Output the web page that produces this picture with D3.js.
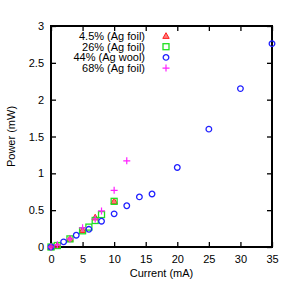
<!DOCTYPE html>
<html>
<head>
<meta charset="utf-8">
<script src="https://cdn.jsdelivr.net/npm/d3@7"></script>
<style>
  body { margin: 0; background: #fff; }
  svg text { font-family: "Liberation Sans", Arial, sans-serif; fill: #000; }
</style>
</head>
<body>
<svg id="chart" width="295" height="295"></svg>
<script>
// series data
const SERIES_NAMES = ["4.5% (Ag foil)", "26% (Ag foil)", "44% (Ag wool)", "68% (Ag foil)"];

const foil45X = [0, 1, 3, 5, 7, 10];
const foil45Y = [0, 0.02, 0.11, 0.23, 0.40, 0.62];

const foil26X = [0, 1, 3, 5, 6, 7, 8, 10];
const foil26Y = [0, 0.02, 0.11, 0.22, 0.27, 0.36, 0.44, 0.62];

const wool44X = [0, 2, 4, 6, 8, 10, 12, 14, 16, 20, 25, 30, 35];
const wool44Y = [0, 0.07, 0.16, 0.24, 0.35, 0.45, 0.56, 0.68, 0.72, 1.08, 1.60, 2.15, 2.76];

const foil68X = [0, 1, 3, 5, 7, 8, 10, 12];
const foil68Y = [0, 0.03, 0.11, 0.26, 0.38, 0.49, 0.77, 1.17];

const X_TICKS = [0, 5, 10, 15, 20, 25, 30, 35];
const Y_TICKS = [0, 0.5, 1, 1.5, 2, 2.5, 3];

const MARGIN = { top: 26, right: 23, bottom: 48, left: 51 };
const WIDTH = 295 - MARGIN.left - MARGIN.right;
const HEIGHT = 295 - MARGIN.top - MARGIN.bottom;
const TICK_LEN = 5;
const FONT_SIZE = 11;

const svg = d3.select("#chart");
const g = svg.append("g").attr("transform", `translate(${MARGIN.left},${MARGIN.top})`);

const x = d3.scaleLinear().domain([0, 35]).range([0, WIDTH]);
const y = d3.scaleLinear().domain([0, 3]).range([HEIGHT, 0]);

const zip = (xs, ys) => xs.map((v, i) => [v, ys[i]]);
const series = [
    { name: SERIES_NAMES[0], data: zip(foil45X, foil45Y), shape: "triangle", color: "#ff2020" },
    { name: SERIES_NAMES[1], data: zip(foil26X, foil26Y), shape: "square",   color: "#20e020" },
    { name: SERIES_NAMES[2], data: zip(wool44X, wool44Y), shape: "circle",   color: "#2020ff" },
    { name: SERIES_NAMES[3], data: zip(foil68X, foil68Y), shape: "plus",     color: "#ff20ff" }
];

// axes: ticks point inward on all four sides, labels only bottom / left
g.append("g")
    .attr("transform", `translate(0,${HEIGHT})`)
    .call(d3.axisBottom(x).tickValues(X_TICKS).tickSize(-TICK_LEN).tickPadding(8).tickFormat(d3.format("d")));
g.append("g")
    .call(d3.axisTop(x).tickValues(X_TICKS).tickSize(-TICK_LEN).tickFormat(""));
g.append("g")
    .call(d3.axisLeft(y).tickValues(Y_TICKS).tickSize(-TICK_LEN).tickPadding(7).tickFormat(d => d));
g.append("g")
    .attr("transform", `translate(${WIDTH},0)`)
    .call(d3.axisRight(y).tickValues(Y_TICKS).tickSize(-TICK_LEN).tickFormat(""));

g.selectAll(".domain").remove();
g.selectAll(".tick line").attr("stroke", "#000").attr("stroke-width", 1.3);
g.selectAll(".tick text").attr("font-size", FONT_SIZE).style("font-family", "'Liberation Sans', Arial, sans-serif");

g.append("rect")
    .attr("width", WIDTH)
    .attr("height", HEIGHT)
    .attr("fill", "none")
    .attr("stroke", "#000")
    .attr("stroke-width", 2);

// axis titles
svg.append("text")
    .attr("x", MARGIN.left + WIDTH / 2)
    .attr("y", 277)
    .attr("text-anchor", "middle")
    .attr("font-size", FONT_SIZE)
    .text("Current (mA)");
svg.append("text")
    .attr("transform", `translate(15,${MARGIN.top + HEIGHT / 2}) rotate(-90)`)
    .attr("text-anchor", "middle")
    .attr("font-size", FONT_SIZE)
    .text("Power (mW)");

function drawMarker(sel, shape, color) {
    if (shape === "circle") {
        sel.append("circle").attr("r", 2.8)
            .attr("fill", "none").attr("stroke", color).attr("stroke-width", 1.3);
    } else if (shape === "square") {
        sel.append("rect").attr("x", -3).attr("y", -3).attr("width", 6).attr("height", 6)
            .attr("fill", "none").attr("stroke", color).attr("stroke-width", 1.3);
    } else if (shape === "triangle") {
        sel.append("path").attr("d", "M0,-3.3L3.2,2.4L-3.2,2.4Z")
            .attr("fill", color).attr("fill-opacity", 0.6).attr("stroke", color).attr("stroke-width", 1);
    } else {
        sel.append("path").attr("d", "M-3.5,0H3.5M0,-3.5V3.5")
            .attr("fill", "none").attr("stroke", color).attr("stroke-width", 1.2);
    }
}

// points
series.forEach(s => {
    g.append("g")
        .selectAll("g")
        .data(s.data)
        .enter()
        .append("g")
        .attr("transform", d => `translate(${x(d[0])},${y(d[1])})`)
        .each(function () { drawMarker(d3.select(this), s.shape, s.color); });
});

// legend, top left
const legend = svg.append("g").attr("transform", "translate(145,36)");
series.forEach((s, i) => {
    const row = legend.append("g").attr("transform", `translate(0,${i * 10.7})`);
    row.append("text")
        .attr("text-anchor", "end")
        .attr("dy", "0.35em")
        .attr("font-size", FONT_SIZE)
        .text(s.name);
    drawMarker(row.append("g").attr("transform", "translate(21,0)"), s.shape, s.color);
});
</script>
</body>
</html>
